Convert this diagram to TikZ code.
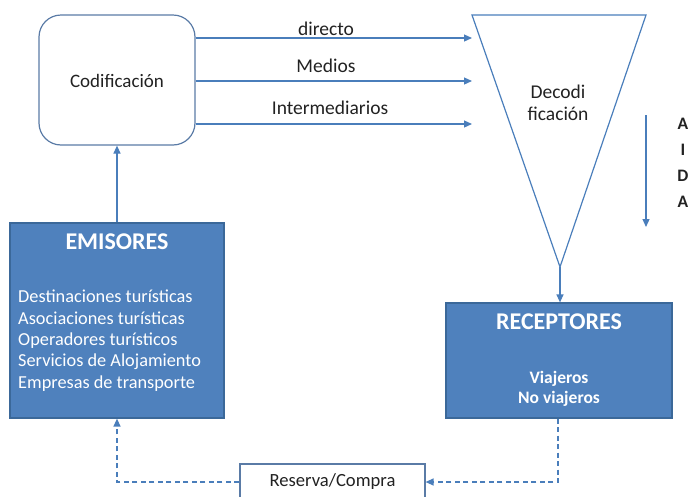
\documentclass[tikz,border=0pt]{standalone}
\usepackage{fontspec}
\setmainfont{Carlito}
\usetikzlibrary{arrows.meta}
\definecolor{lineblue}{HTML}{4A7EBB}
\definecolor{boxblue}{HTML}{4F81BD}
\definecolor{boxedge}{HTML}{3B6899}
\definecolor{roundedge}{HTML}{5A7BA6}
\definecolor{txtdark}{HTML}{222222}
\tikzset{
  arr/.style={draw=lineblue, line width=1.2pt, -{Triangle[length=8pt,width=7pt]}},
  dasharr/.style={draw=lineblue, line width=1.3pt, dash pattern=on 5pt off 3.5pt, -{Triangle[length=8pt,width=7pt]}},
  bluebox/.style={draw=boxedge, fill=boxblue, line width=1.2pt, inner sep=0pt},
  lbl/.style={text=txtdark, font=\fontsize{19.5}{22}\selectfont, inner sep=0pt},
  title/.style={text=white, font=\fontsize{24}{26}\selectfont\bfseries, inner sep=0pt},
  aida/.style={text=txtdark, font=\fontsize{17.5}{19}\selectfont\bfseries, inner sep=0pt}
}
\begin{document}
\begin{tikzpicture}[x=1pt,y=-1pt]
\useasboundingbox (0,0) rectangle (689,496);
\clip (0,0) rectangle (689,496);

% encoding box
\node[draw=roundedge, line width=1.2pt, rounded corners=22pt, minimum width=156pt, minimum height=130pt, inner sep=0pt] (cod) at (117,80) {};
\node[lbl, font=\fontsize{19}{22}\selectfont] (codtxt) at (117,81) {Codificación};

% decoding funnel
\coordinate (tl) at (472,15);
\coordinate (tr) at (646,15);
\coordinate (apex) at (560,267);
\draw[draw=lineblue, line width=1.2pt, line join=miter] (tl) -- (tr) -- (apex) -- cycle;
\node[lbl, align=center, font=\fontsize{19.5}{22}\selectfont] (dectxt) at (558,103) {Decodi\\ficación};

% channels
\coordinate (c1) at (472,38);
\coordinate (c2) at (472,81);
\coordinate (c3) at (472,124);
\draw[arr] (cod.east |- c1) -- (c1);
\draw[arr] (cod.east |- c2) -- (c2);
\draw[arr] (cod.east |- c3) -- (c3);
\node[lbl] (l1) at (326,29) {directo};
\node[lbl] (l2) at (326,66) {Medios};
\node[lbl] (l3) at (330,108) {Intermediarios};

% AIDA
\coordinate (a1) at (646,115);
\coordinate (a2) at (646,227);
\draw[arr] (a1) -- (a2);
\node[aida] (la1) at (683,124) {A};
\node[aida] (la2) at (683,150) {I};
\node[aida] (la3) at (683,176) {D};
\node[aida] (la4) at (683,202) {A};

% senders
\node[bluebox, minimum width=214pt, minimum height=195pt] (emi) at (117,320.5) {};
\node[title] (emitit) at (117,242) {EMISORES};
\node[text=white, font=\fontsize{18.3}{21.3}\selectfont, align=left, inner sep=0pt, anchor=north west] (emilist) at (18,290)
  {Destinaciones turísticas\\Asociaciones turísticas\\Operadores turísticos\\Servicios de Alojamiento\\Empresas de transporte};

% receivers
\node[bluebox, minimum width=226pt, minimum height=115pt] (rec) at (559,360.5) {};
\node[title] (rectit) at (559,322) {RECEPTORES};
\node[text=white, font=\fontsize{17.5}{20}\selectfont\bfseries, align=center, inner sep=0pt] (reclist) at (559,389) {Viajeros\\No viajeros};

% booking / purchase
\node[draw=roundedge, line width=1.2pt, fill=white, minimum width=185pt, minimum height=40pt, inner sep=0pt] (res) at (332.5,484) {};
\node[lbl, font=\fontsize{18.6}{21}\selectfont] (restxt) at (332.5,482) {Reserva/Compra};

% connectors
\draw[arr] (emi.north) -- (cod.south);
\draw[arr] (apex) -- (rec.north -| apex);
\coordinate (r1) at (558,482);
\coordinate (e1) at (117,482);
\draw[dasharr] (rec.south -| r1) -- (r1) -- (res.east |- r1);
\draw[dasharr] (res.west |- e1) -- (e1) -- (emi.south);
\end{tikzpicture}
\end{document}
